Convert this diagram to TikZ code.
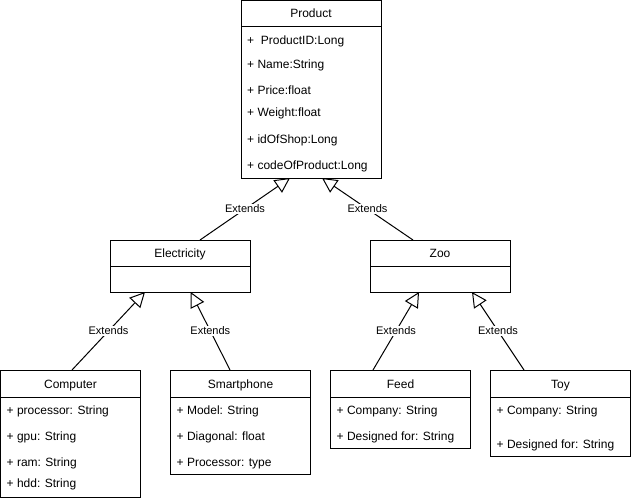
\documentclass[tikz,border=0pt]{standalone}
\usepackage{fontspec}
\setmainfont{Liberation Sans}
\usetikzlibrary{arrows.meta}
\begin{document}
\begin{tikzpicture}[x=1pt,y=-1pt,
  classbox/.style={draw, line width=1pt, rectangle, anchor=north west, inner sep=0pt, outer sep=0pt},
  ctitle/.style={anchor=base, inner sep=0pt, font=\fontsize{12}{14}\selectfont},
  attr/.style={anchor=base west, inner sep=0pt, font=\fontsize{12}{14}\selectfont},
  ext/.style={draw, line width=1pt, -{Triangle[open, length=15pt, width=15pt]}},
  lbl/.style={fill=white, inner sep=1pt, font=\fontsize{11}{13}\selectfont}]
\useasboundingbox (0,0) rectangle (631,500);

% Product
\node[classbox, minimum width=140pt, minimum height=177pt] (prod) at (241,1) {};
\draw[line width=1pt] (prod.north west) ++(0,26) -- ++(140,0);
\node[ctitle] (prodT) at (311,18) {Product};
\node[attr] (prodA1) at (247,44.3) {+\ \ ProductID:Long};
\node[attr] (prodA2) at (247,69) {+ Name:String};
\node[attr] (prodA3) at (247,94.5) {+ Price:float};
\node[attr] (prodA4) at (247,117) {+ Weight:float};
\node[attr] (prodA5) at (247,143) {+ idOfShop:Long};
\node[attr] (prodA6) at (247,169.5) {+ codeOfProduct:Long};

% Electricity
\node[classbox, minimum width=140pt, minimum height=52pt] (elec) at (110,240) {};
\draw[line width=1pt] (elec.north west) ++(0,26) -- ++(140,0);
\node[ctitle] (elecT) at (180,257.5) {Electricity};

% Zoo
\node[classbox, minimum width=140pt, minimum height=52pt] (zoo) at (370,240) {};
\draw[line width=1pt] (zoo.north west) ++(0,26) -- ++(140,0);
\node[ctitle] (zooT) at (440,257.5) {Zoo};

% Computer
\node[classbox, minimum width=140pt, minimum height=127pt] (comp) at (0.5,370) {};
\draw[line width=1pt] (comp.north west) ++(0,27) -- ++(140,0);
\node[ctitle] (compT) at (70.5,388) {Computer};
\node[attr] (compA1) at (6.5,414) {+ processor: String};
\node[attr] (compA2) at (6.5,440) {+ gpu: String};
\node[attr] (compA3) at (6.5,466) {+ ram: String};
\node[attr] (compA4) at (6.5,487) {+ hdd: String};

% Smartphone
\node[classbox, minimum width=140pt, minimum height=104pt] (smart) at (170.5,370) {};
\draw[line width=1pt] (smart.north west) ++(0,27) -- ++(140,0);
\node[ctitle] (smartT) at (240.5,388) {Smartphone};
\node[attr] (smartA1) at (176.5,414) {+ Model: String};
\node[attr] (smartA2) at (176.5,440) {+ Diagonal: float};
\node[attr] (smartA3) at (176.5,466) {+ Processor: type};

% Feed
\node[classbox, minimum width=140pt, minimum height=78pt] (feed) at (330.5,370) {};
\draw[line width=1pt] (feed.north west) ++(0,27) -- ++(140,0);
\node[ctitle] (feedT) at (400.5,388) {Feed};
\node[attr] (feedA1) at (336.5,414) {+ Company: String};
\node[attr] (feedA2) at (336.5,440) {+ Designed for: String};

% Toy
\node[classbox, minimum width=140pt, minimum height=86pt] (toy) at (490.5,370) {};
\draw[line width=1pt] (toy.north west) ++(0,27) -- ++(140,0);
\node[ctitle] (toyT) at (560.5,388) {Toy};
\node[attr] (toyA1) at (496.5,414) {+ Company: String};
\node[attr] (toyA2) at (496.5,448) {+ Designed for: String};

% Connectors
\draw[ext] ([xshift=90pt]elec.north west) -- node[lbl] (l1) {Extends} ([xshift=49pt]prod.south west);
\draw[ext] ([xshift=43pt]zoo.north west) -- node[lbl] (l2) {Extends} ([xshift=81pt]prod.south west);
\draw[ext] ([xshift=71.5pt]comp.north west) -- node[lbl] (l3) {Extends} ([xshift=35pt]elec.south west);
\draw[ext] ([xshift=59.5pt]smart.north west) -- node[lbl] (l4) {Extends} ([xshift=80.7pt]elec.south west);
\draw[ext] ([xshift=42.5pt]feed.north west) -- node[lbl] (l5) {Extends} ([xshift=49pt]zoo.south west);
\draw[ext] ([xshift=33.5pt]toy.north west) -- node[lbl] (l6) {Extends} ([xshift=102pt]zoo.south west);
\end{tikzpicture}
\end{document}
